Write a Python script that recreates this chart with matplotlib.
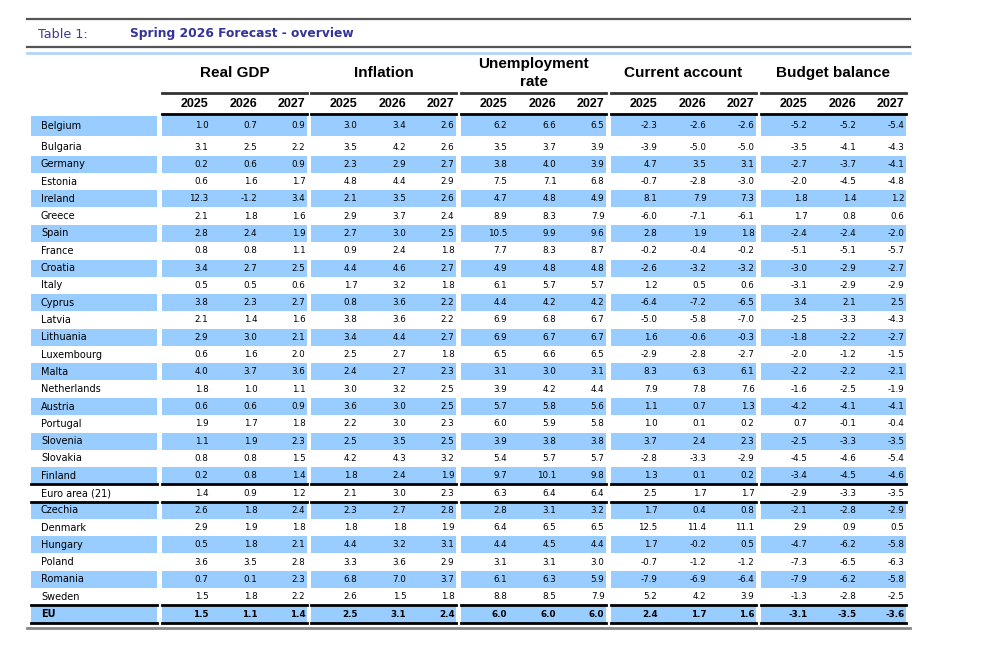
import matplotlib
matplotlib.use("Agg")
import matplotlib.pyplot as plt

countries = ["Belgium", "Bulgaria", "Germany", "Estonia", "Ireland", "Greece", "Spain",
             "France", "Croatia", "Italy", "Cyprus", "Latvia", "Lithuania", "Luxembourg",
             "Malta", "Netherlands", "Austria", "Portugal", "Slovenia", "Slovakia", "Finland",
             "Euro area (21)", "Czechia", "Denmark", "Hungary", "Poland", "Romania", "Sweden", "EU"]
years = ["2025", "2026", "2027"]
groups = ["Real GDP", "Inflation", "Unemployment\nrate", "Current account", "Budget balance"]

gdp = [(1.0, 0.7, 0.9), (3.1, 2.5, 2.2), (0.2, 0.6, 0.9), (0.6, 1.6, 1.7), (12.3, -1.2, 3.4),
       (2.1, 1.8, 1.6), (2.8, 2.4, 1.9), (0.8, 0.8, 1.1), (3.4, 2.7, 2.5), (0.5, 0.5, 0.6),
       (3.8, 2.3, 2.7), (2.1, 1.4, 1.6), (2.9, 3.0, 2.1), (0.6, 1.6, 2.0), (4.0, 3.7, 3.6),
       (1.8, 1.0, 1.1), (0.6, 0.6, 0.9), (1.9, 1.7, 1.8), (1.1, 1.9, 2.3), (0.8, 0.8, 1.5),
       (0.2, 0.8, 1.4), (1.4, 0.9, 1.2), (2.6, 1.8, 2.4), (2.9, 1.9, 1.8), (0.5, 1.8, 2.1),
       (3.6, 3.5, 2.8), (0.7, 0.1, 2.3), (1.5, 1.8, 2.2), (1.5, 1.1, 1.4)]
inflation = [(3.0, 3.4, 2.6), (3.5, 4.2, 2.6), (2.3, 2.9, 2.7), (4.8, 4.4, 2.9), (2.1, 3.5, 2.6),
             (2.9, 3.7, 2.4), (2.7, 3.0, 2.5), (0.9, 2.4, 1.8), (4.4, 4.6, 2.7), (1.7, 3.2, 1.8),
             (0.8, 3.6, 2.2), (3.8, 3.6, 2.2), (3.4, 4.4, 2.7), (2.5, 2.7, 1.8), (2.4, 2.7, 2.3),
             (3.0, 3.2, 2.5), (3.6, 3.0, 2.5), (2.2, 3.0, 2.3), (2.5, 3.5, 2.5), (4.2, 4.3, 3.2),
             (1.8, 2.4, 1.9), (2.1, 3.0, 2.3), (2.3, 2.7, 2.8), (1.8, 1.8, 1.9), (4.4, 3.2, 3.1),
             (3.3, 3.6, 2.9), (6.8, 7.0, 3.7), (2.6, 1.5, 1.8), (2.5, 3.1, 2.4)]
unemployment = [(6.2, 6.6, 6.5), (3.5, 3.7, 3.9), (3.8, 4.0, 3.9), (7.5, 7.1, 6.8), (4.7, 4.8, 4.9),
                (8.9, 8.3, 7.9), (10.5, 9.9, 9.6), (7.7, 8.3, 8.7), (4.9, 4.8, 4.8), (6.1, 5.7, 5.7),
                (4.4, 4.2, 4.2), (6.9, 6.8, 6.7), (6.9, 6.7, 6.7), (6.5, 6.6, 6.5), (3.1, 3.0, 3.1),
                (3.9, 4.2, 4.4), (5.7, 5.8, 5.6), (6.0, 5.9, 5.8), (3.9, 3.8, 3.8), (5.4, 5.7, 5.7),
                (9.7, 10.1, 9.8), (6.3, 6.4, 6.4), (2.8, 3.1, 3.2), (6.4, 6.5, 6.5), (4.4, 4.5, 4.4),
                (3.1, 3.1, 3.0), (6.1, 6.3, 5.9), (8.8, 8.5, 7.9), (6.0, 6.0, 6.0)]
current_account = [(-2.3, -2.6, -2.6), (-3.9, -5.0, -5.0), (4.7, 3.5, 3.1), (-0.7, -2.8, -3.0),
                   (8.1, 7.9, 7.3), (-6.0, -7.1, -6.1), (2.8, 1.9, 1.8), (-0.2, -0.4, -0.2),
                   (-2.6, -3.2, -3.2), (1.2, 0.5, 0.6), (-6.4, -7.2, -6.5), (-5.0, -5.8, -7.0),
                   (1.6, -0.6, -0.3), (-2.9, -2.8, -2.7), (8.3, 6.3, 6.1), (7.9, 7.8, 7.6),
                   (1.1, 0.7, 1.3), (1.0, 0.1, 0.2), (3.7, 2.4, 2.3), (-2.8, -3.3, -2.9),
                   (1.3, 0.1, 0.2), (2.5, 1.7, 1.7), (1.7, 0.4, 0.8), (12.5, 11.4, 11.1),
                   (1.7, -0.2, 0.5), (-0.7, -1.2, -1.2), (-7.9, -6.9, -6.4), (5.2, 4.2, 3.9),
                   (2.4, 1.7, 1.6)]
budget_balance = [(-5.2, -5.2, -5.4), (-3.5, -4.1, -4.3), (-2.7, -3.7, -4.1), (-2.0, -4.5, -4.8),
                  (1.8, 1.4, 1.2), (1.7, 0.8, 0.6), (-2.4, -2.4, -2.0), (-5.1, -5.1, -5.7),
                  (-3.0, -2.9, -2.7), (-3.1, -2.9, -2.9), (3.4, 2.1, 2.5), (-2.5, -3.3, -4.3),
                  (-1.8, -2.2, -2.7), (-2.0, -1.2, -1.5), (-2.2, -2.2, -2.1), (-1.6, -2.5, -1.9),
                  (-4.2, -4.1, -4.1), (0.7, -0.1, -0.4), (-2.5, -3.3, -3.5), (-4.5, -4.6, -5.4),
                  (-3.4, -4.5, -4.6), (-2.9, -3.3, -3.5), (-2.1, -2.8, -2.9), (2.9, 0.9, 0.5),
                  (-4.7, -6.2, -5.8), (-7.3, -6.5, -6.3), (-7.9, -6.2, -5.8), (-1.3, -2.8, -2.5),
                  (-3.1, -3.5, -3.6)]

tables = [gdp, inflation, unemployment, current_account, budget_balance]

# layout in pixels (axes spans the whole figure)
W, H = 982, 658
band = "#99ccff"
name_x0, name_x1 = 31, 157
group_left = [162, 311, 461, 611, 761]
group_w = 145
col_right = [46.5, 95.5, 143.5]
row_step = 17.3
first_y, second_y = 126.0, 147.0

def row_y(i):
    return first_y if i == 0 else second_y + (i - 1) * row_step

fig = plt.figure(figsize=(W / 100, H / 100), dpi=100)
ax = fig.add_axes([0, 0, 1, 1])
ax.set_xlim(0, W)
ax.set_ylim(H, 0)
ax.axis("off")

data_font = "DejaVu Sans"
head_font = "Liberation Sans"

# title block
ax.plot([27, 910], [19, 19], color="#555555", lw=1.6)
ax.plot([27, 910], [47, 47], color="#555555", lw=1.6)
ax.plot([27, 910], [52.5, 52.5], color="#b3d5f5", lw=2)
ax.text(38, 34, "Table 1:", color="#3c3c8c", fontsize=9.2, va="center", family=data_font)
ax.text(130, 34, "Spring 2026 Forecast - overview", color="#333399", fontsize=8.8,
        fontweight="bold", va="center", family=data_font)

# group headers
for g, label in enumerate(groups):
    x0 = group_left[g]
    ax.text(x0 + group_w / 2, 73, label, ha="center", va="center", fontsize=11,
            fontweight="bold", family=head_font, linespacing=1.45)
    ax.plot([x0, x0 + group_w], [93, 93], color="#333333", lw=2)
    for c, yr in enumerate(years):
        ax.text(x0 + col_right[c], 104, yr, ha="right", va="center", fontsize=9,
                fontweight="bold", family=head_font)
    ax.plot([x0, x0 + group_w], [114, 114], color="black", lw=2)

# row bands
for i, name in enumerate(countries):
    y = row_y(i)
    h = 20 if i == 0 else 17
    if i % 2 == 0:
        ax.barh(y, name_x1 - name_x0, left=name_x0, height=h, color=band, zorder=0)
        ax.barh([y] * 5, group_w, left=group_left, height=h, color=band, zorder=0)
    bold = "bold" if name == "EU" else "normal"
    ax.text(41, y, name, ha="left", va="center", fontsize=7, fontweight=bold,
            family=data_font)
    for g, tab in enumerate(tables):
        for c in range(3):
            ax.text(group_left[g] + col_right[c], y, f"{tab[i][c]:.1f}", ha="right",
                    va="center", fontsize=6.3, fontweight=bold, family=data_font)

# separator lines around Euro area and EU rows
n = len(countries)
sep_after = [20, 21, n - 2, n - 1]
for i in sep_after:
    y = (row_y(i) + row_y(i + 1)) / 2 if i + 1 < n else row_y(i) + 8.5
    ax.plot([name_x0, name_x1], [y, y], color="black", lw=2)
    for x0 in group_left:
        ax.plot([x0, x0 + group_w], [y, y], color="black", lw=2)

ax.plot([27, 910], [628, 628], color="#888888", lw=2)

fig.savefig("out.png", dpi=100)
